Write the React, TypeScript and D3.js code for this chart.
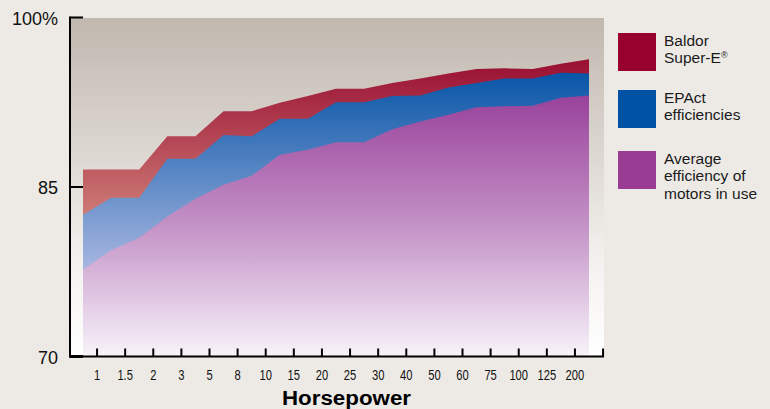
import React, { useEffect, useRef } from 'react';
import * as d3 from 'd3';

// horsepower classes along the bottom
const categories = ['1', '1.5', '2', '3', '5', '8', '10', '15', '20', '25', '30', '40', '50', '60', '75', '100', '125', '200'];

// values sit on the band edges (19 points for 18 classes)
const baldorSuperE = [86.55, 86.55, 86.55, 89.5, 89.5, 91.7, 91.7, 92.45, 93.05, 93.7, 93.7, 94.2, 94.6, 95.05, 95.45, 95.5, 95.45, 95.9, 96.3];
const epactEfficiency = [82.55, 84.05, 84.05, 87.5, 87.5, 89.6, 89.5, 91.05, 91.05, 92.5, 92.5, 93.05, 93.1, 93.8, 94.2, 94.6, 94.6, 95.1, 95.05];
const averageInUse = [77.7, 79.4, 80.5, 82.4, 83.95, 85.2, 86.0, 87.85, 88.3, 88.95, 88.95, 90.1, 90.8, 91.4, 92.05, 92.15, 92.2, 92.9, 93.1];

const yTicks = [70, 85, 100];
const yTickLabels = ['70', '85', '100%'];

const legendItems = [
  { lines: ['Baldor', 'Super-E'], color: '#98002e', reg: true },
  { lines: ['EPAct', 'efficiencies'], color: '#0053a4', reg: false },
  { lines: ['Average', 'efficiency of', 'motors in use'], color: '#993c94', reg: false },
];

const FONT = '"Liberation Sans", Arial, Helvetica, sans-serif';

const App: React.FC = () => {
  const ref = useRef<SVGSVGElement>(null);

  useEffect(() => {
    drawChart();
  }, []);

  const drawChart = () => {
    const svg = d3.select(ref.current);
    svg.selectAll('*').remove();

    const x = d3.scaleBand<string>().domain(categories).range([83, 589]).paddingInner(0).paddingOuter(0);
    const y = d3.scaleLinear().domain([70, 100]).range([356.5, 17.5]);
    const bw = x.bandwidth();
    const axisLeftX = 70;
    const axisRightX = 589 + bw / 2;

    const edgeX = (k: number) => (k < categories.length ? (x(categories[k]) ?? 0) : (x(categories[categories.length - 1]) ?? 0) + bw);

    const defs = svg.append('defs');
    const grad = (id: string, y1: number, y2: number, stops: [number, string][]) => {
      const g = defs.append('linearGradient').attr('id', id)
        .attr('gradientUnits', 'userSpaceOnUse')
        .attr('x1', 0).attr('x2', 0).attr('y1', y1).attr('y2', y2);
      stops.forEach(([o, c]) => g.append('stop').attr('offset', o).attr('stop-color', c));
    };
    grad('bgGrad', 18, 356, [[0, '#c1b8af'], [0.45, '#e0dbd6'], [0.75, '#f5f3f1'], [1, '#ffffff']]);
    grad('redGrad', 55, 220, [[0, '#980b30'], [1, '#cf7f78']]);
    grad('blueGrad', 70, 275, [[0, '#0654a6'], [1, '#abb9e2']]);
    grad('purpleGrad', 92, 357, [[0, '#98409a'], [0.5, '#c391c6'], [1, '#f8f3fa']]);

    // page
    svg.append('rect').attr('width', 770).attr('height', 409).attr('fill', '#edeae6');

    // plot background
    svg.append('rect')
      .attr('x', axisLeftX).attr('y', 18)
      .attr('width', 604 - axisLeftX).attr('height', 356.5 - 18)
      .attr('fill', 'url(#bgGrad)');

    const area = d3.area<number>()
      .x((_, i) => edgeX(i))
      .y0(y(70))
      .y1(d => y(d));

    const g = svg.append('g');
    g.append('path').datum(baldorSuperE).attr('d', area).attr('fill', 'url(#redGrad)');
    g.append('path').datum(epactEfficiency).attr('d', area).attr('fill', 'url(#blueGrad)');
    g.append('path').datum(averageInUse).attr('d', area).attr('fill', 'url(#purpleGrad)');

    // x axis
    const xAxis = svg.append('g')
      .attr('transform', `translate(0,${y(70)})`)
      .call(d3.axisBottom(x).tickSize(-8).tickSizeOuter(0).tickPadding(14));
    xAxis.select('.domain').remove();
    xAxis.selectAll('.tick line').attr('stroke', '#000').attr('stroke-width', 2);
    xAxis.selectAll('.tick text')
      .attr('font-family', FONT)
      .attr('font-size', 14)
      .attr('fill', '#111')
      .attr('transform', 'scale(0.8,1)');
    xAxis.append('line')
      .attr('x1', axisLeftX - 1).attr('x2', axisRightX + 1)
      .attr('stroke', '#000').attr('stroke-width', 2);
    xAxis.append('line')
      .attr('x1', axisRightX).attr('x2', axisRightX)
      .attr('y1', 0).attr('y2', -8)
      .attr('stroke', '#000').attr('stroke-width', 2);

    // y axis
    svg.append('line')
      .attr('x1', axisLeftX).attr('x2', axisLeftX)
      .attr('y1', y(100) - 1).attr('y2', y(70) + 1)
      .attr('stroke', '#000').attr('stroke-width', 2);
    yTicks.forEach((t, i) => {
      svg.append('line')
        .attr('x1', axisLeftX).attr('x2', 83)
        .attr('y1', y(t)).attr('y2', y(t))
        .attr('stroke', '#000').attr('stroke-width', t === 70 ? 3 : 2);
      svg.append('text')
        .attr('x', 58).attr('y', y(t) + 7)
        .attr('text-anchor', 'end')
        .attr('font-family', FONT)
        .attr('font-size', 18)
        .attr('fill', '#111')
        .text(yTickLabels[i]);
    });

    svg.append('text')
      .attr('x', 282).attr('y', 405)
      .attr('font-family', FONT)
      .attr('font-weight', 'bold')
      .attr('font-size', 20)
      .attr('textLength', 129)
      .attr('lengthAdjust', 'spacingAndGlyphs')
      .attr('fill', '#000')
      .text('Horsepower');

    // legend
    const legendTops = [33, 90, 151];
    legendItems.forEach((item, i) => {
      const top = legendTops[i];
      svg.append('rect')
        .attr('x', 618).attr('y', top)
        .attr('width', 38).attr('height', 38)
        .attr('fill', item.color);
      item.lines.forEach((line, j) => {
        const t = svg.append('text')
          .attr('x', 664).attr('y', top + 13 + j * 17.3)
          .attr('font-family', FONT)
          .attr('font-size', 15.5)
          .attr('fill', '#1a1a1a')
          .text(line);
        if (item.reg && j === item.lines.length - 1) {
          t.append('tspan').attr('font-size', 9).attr('dy', -5).text('®');
        }
      });
    });
  };

  return (
    <div style={{ position: 'absolute', left: 0, top: 0 }}>
      <svg ref={ref} width={770} height={409} style={{ display: 'block' }} />
    </div>
  );
};

export default App;
